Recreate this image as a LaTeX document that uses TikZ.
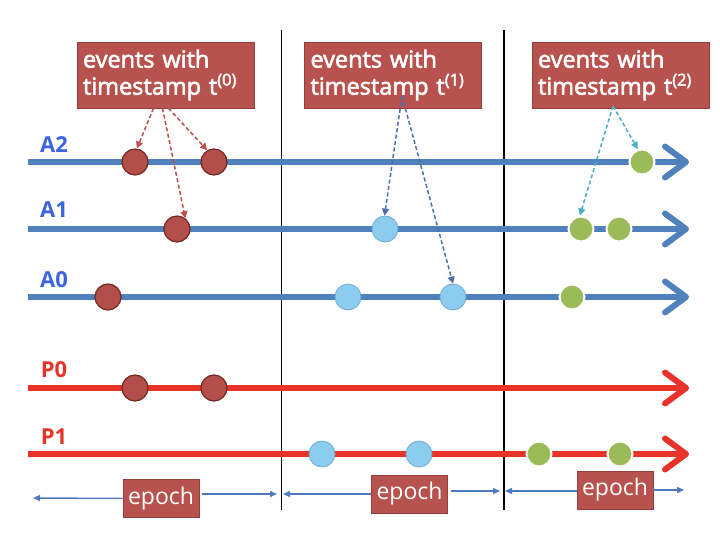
\documentclass[tikz,border=0pt]{standalone}
\usepackage{fontspec}
\setmainfont{Open Sans}
\newfontfamily\titlefont[FakeBold=2.5]{Open Sans}
\usetikzlibrary{arrows.meta}
\definecolor{lineblue}{RGB}{79,129,189}
\definecolor{linered}{RGB}{232,52,40}
\definecolor{boxred}{RGB}{184,82,78}
\definecolor{boxborder}{RGB}{150,60,58}
\definecolor{lblblue}{RGB}{60,100,225}
\definecolor{evred}{RGB}{180,78,72}
\definecolor{evredb}{RGB}{115,40,38}
\definecolor{evblue}{RGB}{140,205,238}
\definecolor{evblueb}{RGB}{110,170,210}
\definecolor{evgreen}{RGB}{155,187,89}
\definecolor{dred}{RGB}{190,80,75}
\definecolor{dblue}{RGB}{75,110,175}
\definecolor{dcyan}{RGB}{75,172,198}
\definecolor{epblue}{RGB}{80,120,190}
\tikzset{
  timeline/.style={line width=6pt,-{Straight Barb[length=21pt,width=31pt,round]}},
  epochline/.style={black,line width=1.5pt},
  evr/.style={circle,minimum size=26pt,inner sep=0pt,fill=evred,draw=evredb,line width=1.2pt},
  evb/.style={circle,minimum size=26pt,inner sep=0pt,fill=evblue,draw=evblueb,line width=0.8pt},
  evg/.style={circle,minimum size=25pt,inner sep=0pt,fill=evgreen,draw=white,line width=2pt},
  tbox/.style={fill=boxred,draw=boxborder,line width=0.6pt,text=white,
    font=\titlefont\fontsize{23.5}{27}\selectfont,align=left,text width=165pt,
    minimum width=177pt,minimum height=66pt,inner xsep=6pt,inner ysep=4pt},
  ebox/.style={fill=boxred,draw=boxborder,line width=0.6pt,text=white,
    font=\fontsize{23}{25}\selectfont,minimum width=76pt,minimum height=38pt,inner sep=0pt},
  lbl/.style={font=\fontsize{22}{24}\selectfont\bfseries,inner sep=0pt},
  darr/.style={line width=1.5pt,dash pattern=on 4pt off 2.5pt,-{Triangle[length=7pt,width=7pt]}},
  earr/.style={epblue,line width=1.5pt,-{Triangle[length=7pt,width=6pt]}},
}
\begin{document}
\begin{tikzpicture}[x=1pt,y=-1pt]
\useasboundingbox (0,0) rectangle (720,540);
% epoch separators
\coordinate (s1t) at (281.5,30); \coordinate (s1b) at (281.5,510);
\coordinate (s2t) at (504,30);   \coordinate (s2b) at (504,510);
\draw[epochline] (s1t) -- (s1b);
\draw[epochline] (s2t) -- (s2b);
% timelines
\foreach \n/\y/\c in {A2/162/lineblue,A1/229/lineblue,A0/297/lineblue,P0/388/linered,P1/454/linered}{
  \coordinate (\n s) at (28,\y);
  \coordinate (\n e) at (689,\y);
  \draw[timeline,\c] (\n s) -- (\n e);
}
% labels
\node[lbl,text=lblblue] (lA2) at (54,145) {A2};
\node[lbl,text=lblblue] (lA1) at (54,210) {A1};
\node[lbl,text=lblblue] (lA0) at (54,279.5) {A0};
\node[lbl,text=linered] (lP0) at (54,369.5) {P0};
\node[lbl,text=linered] (lP1) at (54,437) {P1};
% events
\node[evr] (a2r1) at (135,162) {};
\node[evr] (a2r2) at (214,162) {};
\node[evg] (a2g1) at (642,162) {};
\node[evr] (a1r1) at (177,229) {};
\node[evb] (a1b1) at (385,229) {};
\node[evg] (a1g1) at (581,229) {};
\node[evg] (a1g2) at (619,229) {};
\node[evr] (a0r1) at (108,297) {};
\node[evb] (a0b1) at (348,297) {};
\node[evb] (a0b2) at (453,297) {};
\node[evg] (a0g1) at (572,297) {};
\node[evr] (p0r1) at (135,388) {};
\node[evr] (p0r2) at (214,388) {};
\node[evb] (p1b1) at (322,454) {};
\node[evb] (p1b2) at (419,454) {};
\node[evg] (p1g1) at (539,454) {};
\node[evg] (p1g2) at (620,454) {};
% title boxes
\node[tbox] (t0) at (165.5,75) {events with\\timestamp t\textsuperscript{(0)}};
\node[tbox] (t1) at (393,75) {events with\\timestamp t\textsuperscript{(1)}};
\node[tbox] (t2) at (620.5,75) {events with\\timestamp t\textsuperscript{(2)}};
% dashed pointers
\draw[darr,dred] ([xshift=-12pt]t0.south) -- (a2r1.82);
\draw[darr,dred] ([xshift=-3pt]t0.south) -- (a1r1.52);
\draw[darr,dred] ([xshift=3pt]t0.south) -- (a2r2.120);
\coordinate (t1p) at (402,96);
\draw[darr,dblue] (t1p) -- (a1b1.92);
\draw[darr,dblue] (t1p) -- (a0b2.90);
\coordinate (t2p) at (613,106);
\draw[darr,dcyan] (t2p) -- (a2g1.108);
\draw[darr,dcyan] (t2p) -- (a1g1.95);
% epoch boxes and arrows
\node[ebox] (ep1) at (161,498.5) {epoch};
\node[ebox] (ep2) at (409.5,494) {epoch};
\node[ebox] (ep3) at (615,490) {epoch};
\coordinate (e1l) at (33,498);  \coordinate (e1r) at (277,494);
\coordinate (e2l) at (283,494); \coordinate (e2r) at (500,491);
\coordinate (e3l) at (505,491); \coordinate (e3r) at (684,490);
\draw[earr] (ep1.west) -- (e1l);
\draw[earr] ([xshift=3pt]ep1.east |- e1r) -- (e1r);
\draw[earr] (ep2.west |- e2l) -- (e2l);
\draw[earr] ([xshift=3pt]ep2.east |- e2r) -- (e2r);
\draw[earr] (ep3.west |- e3l) -- (e3l);
\draw[earr] (ep3.east |- e3r) -- (e3r);
\end{tikzpicture}
\end{document}
